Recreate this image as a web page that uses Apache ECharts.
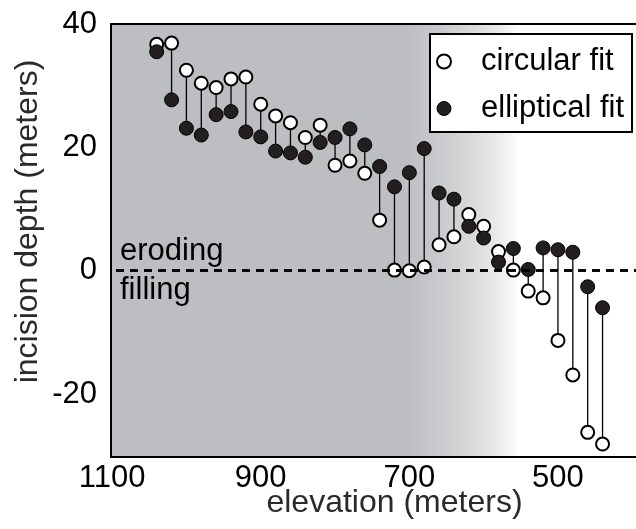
<!DOCTYPE html>
<html>
<head>
<meta charset="utf-8">
<script src="https://cdn.jsdelivr.net/npm/echarts@6/dist/echarts.min.js"></script>
<style>
html,body{margin:0;padding:0;background:#fff;}
#chart{width:636px;height:529px;}
</style>
</head>
<body>
<div id="chart"></div>
<script>
const elevation = [1040,1020,1000,980,960,940,920,900,880,860,840,820,800,780,760,740,720,700,680,660,640,620,600,580,560,540,520,500,480,460,440];
const circularFit = [36.7,36.9,32.5,30.4,29.7,31.1,31.4,27.0,25.1,24.0,21.6,23.6,17.1,17.8,15.8,8.2,0.1,0.0,0.6,4.2,5.5,9.1,7.2,3.1,0.1,-3.3,-4.4,-11.3,-16.9,-26.2,-28.1];
const ellipticalFit = [35.5,27.7,23.1,22.0,25.3,25.8,22.5,21.7,19.4,19.1,18.4,20.8,21.6,23.0,20.4,16.9,13.6,15.9,19.8,12.6,11.6,7.2,5.3,1.4,3.6,0.2,3.7,3.4,3.0,-2.6,-6.0];
const xTickLabels = [1100, 900, 700, 500];
const yTickLabels = [-20, 0, 20, 40];
const seriesNames = ['circular fit', 'elliptical fit'];
const zoneLabels = ['eroding', 'filling'];

const FONT = "'Liberation Sans', Arial, Helvetica, sans-serif";
const chart = echarts.init(document.getElementById('chart'), null, {renderer: 'canvas'});

const circData = elevation.map((e, i) => [e, circularFit[i]]);
const ellData = elevation.map((e, i) => [e, ellipticalFit[i]]);
const linkData = elevation.map((e, i) => [e, circularFit[i], ellipticalFit[i]]);

const bg = new echarts.graphic.LinearGradient(0, 0, 1, 0, [
  {offset: 0, color: '#bdbec2'},
  {offset: 0.55, color: '#bdbec2'},
  {offset: 0.62, color: '#c9cacd'},
  {offset: 0.68, color: '#d9dadc'},
  {offset: 0.73, color: '#ebebed'},
  {offset: 0.77, color: '#ffffff'},
  {offset: 1, color: '#ffffff'}
]);

chart.setOption({
  animation: false,
  backgroundColor: '#fff',
  textStyle: {fontFamily: FONT},
  grid: {
    left: 111, top: 24, width: 531, height: 433,
    containLabel: false, outerBoundsMode: 'none',
    show: true, backgroundColor: bg, borderColor: '#000', borderWidth: 2
  },
  legend: {
    orient: 'vertical',
    left: 430, top: 34,
    padding: [12, 8, 8, 6],
    itemGap: 16,
    itemWidth: 14, itemHeight: 14,
    backgroundColor: '#fff',
    borderColor: '#000', borderWidth: 2,
    textStyle: {fontFamily: FONT, fontSize: 31, color: '#000', padding: [0, 0, 0, 25]},
    data: [
      {name: seriesNames[0], icon: 'circle', itemStyle: {color: '#fff', borderColor: '#000', borderWidth: 2}},
      {name: seriesNames[1], icon: 'circle', itemStyle: {color: '#231f20', borderColor: '#000', borderWidth: 1}}
    ]
  },
  xAxis: {
    type: 'value', inverse: true,
    min: 386.9, max: 1101.5,
    name: 'elevation (meters)', nameLocation: 'middle', nameGap: 30, nameMoveOverlap: false,
    nameTextStyle: {fontFamily: FONT, fontSize: 32, color: '#2a2a2a', padding: [0, 0, 0, 36]},
    axisLine: {show: false}, axisTick: {show: false}, splitLine: {show: false},
    axisLabel: {customValues: xTickLabels, formatter: v => String(v), fontFamily: FONT, fontSize: 31, color: '#000', margin: 6}
  },
  yAxis: {
    type: 'value',
    min: -30.2, max: 40,
    name: 'incision depth (meters)', nameLocation: 'middle', nameGap: 67, nameMoveOverlap: false,
    nameTextStyle: {fontFamily: FONT, fontSize: 32, color: '#2a2a2a', padding: [0, 0, 0, 38]},
    axisLine: {show: false}, axisTick: {show: false}, splitLine: {show: false},
    axisLabel: {customValues: yTickLabels, formatter: v => String(v), fontFamily: FONT, fontSize: 31, color: '#000', margin: 14}
  },
  series: [
    {
      type: 'custom', name: 'links', z: 1, silent: true,
      data: linkData,
      encode: {x: 0, y: [1, 2]},
      renderItem: function (params, api) {
        const p1 = api.coord([api.value(0), api.value(1)]);
        const p2 = api.coord([api.value(0), api.value(2)]);
        return {type: 'line', shape: {x1: p1[0], y1: p1[1], x2: p2[0], y2: p2[1]},
                style: {stroke: '#000', lineWidth: 1.3}};
      },
      markLine: {
        silent: true, symbol: 'none', animation: false,
        lineStyle: {color: '#000', type: [8, 6], width: 2.5},
        label: {fontFamily: FONT, fontSize: 31, color: '#000'},
        data: [
          {yAxis: 0, label: {formatter: zoneLabels[0], position: 'insideEndTop', distance: [9, 4]}},
          {yAxis: 0, label: {formatter: zoneLabels[1], position: 'insideEndBottom', distance: [9, 4]}}
        ]
      }
    },
    {
      type: 'scatter', name: seriesNames[0], z: 2,
      data: circData, symbol: 'circle', symbolSize: 13,
      itemStyle: {color: '#fff', borderColor: '#000', borderWidth: 2, opacity: 1}
    },
    {
      type: 'scatter', name: seriesNames[1], z: 3,
      data: ellData, symbol: 'circle', symbolSize: 14,
      itemStyle: {color: '#231f20', borderColor: '#000', borderWidth: 1, opacity: 1}
    }
  ]
});
</script>
</body>
</html>
